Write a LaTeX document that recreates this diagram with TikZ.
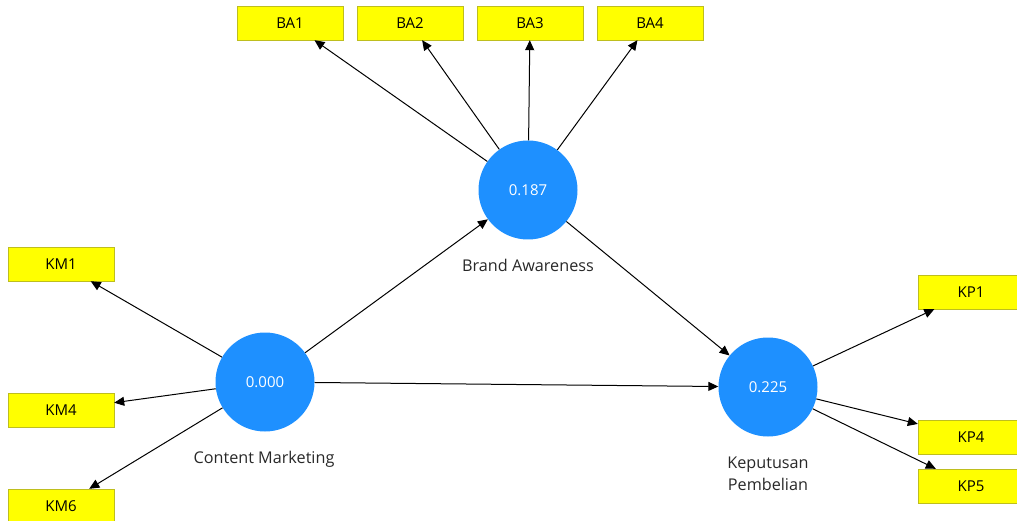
\documentclass[tikz,border=0pt]{standalone}
\usepackage{fontspec}
\setmainfont{Open Sans}
\usetikzlibrary{arrows.meta}
\definecolor{lvblue}{RGB}{30,144,255}
\definecolor{indyellow}{RGB}{255,255,0}
\definecolor{indborder}{RGB}{190,190,30}
\definecolor{labgray}{RGB}{40,40,40}
\begin{document}
\begin{tikzpicture}[x=1pt,y=-1pt,
  font=\fontsize{15}{18}\selectfont,
  latent/.style={circle, fill=lvblue, minimum size=99pt, inner sep=0pt, text=white},
  indicator/.style={draw=indborder, fill=indyellow, minimum width=106pt, minimum height=34pt, inner sep=0pt},
  lab/.style={text=labgray, align=center, font=\fontsize{16.2}{22}\selectfont},
  link/.style={draw, line width=1pt, -{Triangle[length=10pt,width=9pt]}}]
\useasboundingbox (0,0) rectangle (1017,521);
% latent variables
\node[latent] (cm) at (265,382) {0.000};
\node[latent] (ba) at (528,190) {0.187};
\node[latent] (kp) at (768,387) {0.225};
\node[lab] (cmlab) at (264,459) {Content Marketing};
\node[lab] (balab) at (528,265) {Brand Awareness};
\node[lab] (kplab) at (768,474) {Keputusan\\Pembelian};
% indicators
\node[indicator] (ba1) at (290,23) {BA1};
\node[indicator] (ba2) at (410,23) {BA2};
\node[indicator] (ba3) at (530,23) {BA3};
\node[indicator] (ba4) at (650,23) {BA4};
\node[indicator] (km1) at (61,264) {KM1};
\node[indicator] (km4) at (61,410) {KM4};
\node[indicator] (km6) at (61,506) {KM6};
\node[indicator] (kp1) at (971,292) {KP1};
\node[indicator] (kp4) at (971,437) {KP4};
\node[indicator] (kp5) at (971,486) {KP5};
% loadings
\path[link] (ba) -- (ba1);
\path[link] (ba) -- (ba2);
\path[link] (ba) -- (ba3);
\path[link] (ba) -- (ba4);
\path[link] (cm) -- (km1);
\path[link] (cm) -- (km4);
\path[link] (cm) -- (km6);
\path[link] (kp) -- (kp1);
\path[link] (kp) -- (kp4);
\path[link] (kp) -- (kp5);
% paths
\path[link] (cm) -- (ba);
\path[link] (cm) -- (kp);
\path[link] (ba) -- (kp);
\end{tikzpicture}
\end{document}
